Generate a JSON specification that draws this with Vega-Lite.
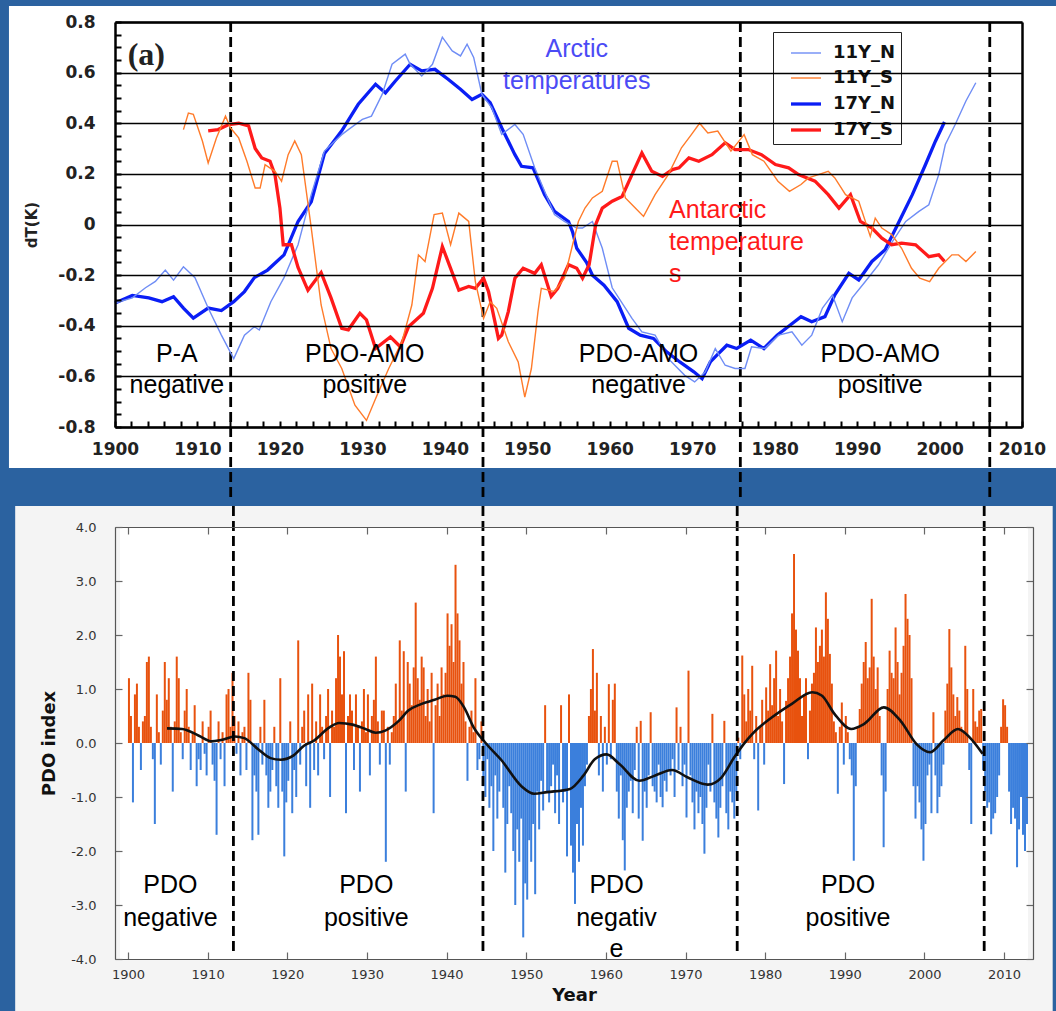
{
"$schema": "https://vega.github.io/schema/vega-lite/v6.json",
"background": "#2b62a0",
"padding": {"left": 8, "top": 6, "right": 0, "bottom": 0},
"config": {"view": {"stroke": null}, "font": "Liberation Sans", "axis": {"labelFont": "Liberation Sans", "titleFont": "Liberation Sans"}},
"spacing": 0,
"resolve": {"scale": {"x": "independent", "y": "independent", "color": "independent", "strokeWidth": "independent"}},
"vconcat": [
{
"width": 907, "height": 405,
"resolve": {"axis": {"x": "independent", "y": "independent"}},
"layer": [
{
"data": {"values": [{}]},
"mark": {"type": "rect", "fill": "white"},
"encoding": {
"x": {"datum": 1887.14, "type": "quantitative", "scale": {"domain": [1900, 2010], "nice": false, "zero": false}, "axis": null},
"x2": {"datum": 2014.4},
"y": {"datum": 0.8632, "type": "quantitative", "scale": {"domain": [-0.8, 0.8], "nice": false, "zero": false}, "axis": null},
"y2": {"datum": -0.962}
}
},
{
"data": {"values": [{"x": 1914.03}, {"x": 1944.63}, {"x": 1975.84}, {"x": 2006.09}]},
"mark": {"type": "rule", "color": "black", "strokeWidth": 2.8, "strokeDash": [10, 5]},
"encoding": {
"x": {"field": "x", "type": "quantitative", "scale": {"domain": [1900, 2010], "nice": false, "zero": false}, "axis": {"orient": "top", "labels": false, "ticks": false, "grid": false, "domain": true, "domainColor": "black", "domainWidth": 2.5, "title": null, "zindex": 1}},
"y": {"datum": 0.8, "type": "quantitative", "scale": {"domain": [-0.8, 0.8], "nice": false, "zero": false}, "axis": null},
"y2": {"datum": -1.0963}
}
},
{
"data": {"values": [
{"s":"17Y_N","x":1900,"v":-0.31},{"s":"17Y_N","x":1902.1,"v":-0.28},{"s":"17Y_N","x":1904.1,"v":-0.29},{"s":"17Y_N","x":1905.7,"v":-0.305},{"s":"17Y_N","x":1907.1,"v":-0.285},{"s":"17Y_N","x":1908.3,"v":-0.33},{"s":"17Y_N","x":1909.5,"v":-0.37},{"s":"17Y_N","x":1911.3,"v":-0.33},{"s":"17Y_N","x":1912.9,"v":-0.34},{"s":"17Y_N","x":1914.4,"v":-0.305},{"s":"17Y_N","x":1915.7,"v":-0.265},{"s":"17Y_N","x":1916.9,"v":-0.21},{"s":"17Y_N","x":1918.5,"v":-0.18},{"s":"17Y_N","x":1920.5,"v":-0.12},{"s":"17Y_N","x":1922.2,"v":0.012},{"s":"17Y_N","x":1923.8,"v":0.09},{"s":"17Y_N","x":1925.4,"v":0.28},{"s":"17Y_N","x":1927.5,"v":0.37},{"s":"17Y_N","x":1929.5,"v":0.475},{"s":"17Y_N","x":1931.6,"v":0.554},{"s":"17Y_N","x":1932.8,"v":0.52},{"s":"17Y_N","x":1934.0,"v":0.567},{"s":"17Y_N","x":1935.8,"v":0.633},{"s":"17Y_N","x":1937.2,"v":0.607},{"s":"17Y_N","x":1938.8,"v":0.613},{"s":"17Y_N","x":1940.4,"v":0.574},{"s":"17Y_N","x":1941.9,"v":0.534},{"s":"17Y_N","x":1943.3,"v":0.494},{"s":"17Y_N","x":1944.5,"v":0.514},{"s":"17Y_N","x":1945.5,"v":0.481},{"s":"17Y_N","x":1946.9,"v":0.382},{"s":"17Y_N","x":1948.5,"v":0.276},{"s":"17Y_N","x":1949.3,"v":0.23},{"s":"17Y_N","x":1950.7,"v":0.224},{"s":"17Y_N","x":1952.1,"v":0.118},{"s":"17Y_N","x":1953.3,"v":0.052},{"s":"17Y_N","x":1955.0,"v":0.012},{"s":"17Y_N","x":1955.5,"v":-0.03},{"s":"17Y_N","x":1956.0,"v":-0.094},{"s":"17Y_N","x":1957.2,"v":-0.15},{"s":"17Y_N","x":1957.9,"v":-0.2},{"s":"17Y_N","x":1959.3,"v":-0.24},{"s":"17Y_N","x":1960.9,"v":-0.305},{"s":"17Y_N","x":1962.3,"v":-0.41},{"s":"17Y_N","x":1963.7,"v":-0.437},{"s":"17Y_N","x":1965.3,"v":-0.45},{"s":"17Y_N","x":1966.9,"v":-0.503},{"s":"17Y_N","x":1968.5,"v":-0.543},{"s":"17Y_N","x":1970.2,"v":-0.582},{"s":"17Y_N","x":1971.2,"v":-0.609},{"s":"17Y_N","x":1972.2,"v":-0.543},{"s":"17Y_N","x":1973.0,"v":-0.516},{"s":"17Y_N","x":1974.2,"v":-0.477},{"s":"17Y_N","x":1975.4,"v":-0.49},{"s":"17Y_N","x":1977.1,"v":-0.457},{"s":"17Y_N","x":1978.7,"v":-0.49},{"s":"17Y_N","x":1980.3,"v":-0.437},{"s":"17Y_N","x":1981.9,"v":-0.397},{"s":"17Y_N","x":1983.2,"v":-0.364},{"s":"17Y_N","x":1984.5,"v":-0.384},{"s":"17Y_N","x":1986.1,"v":-0.364},{"s":"17Y_N","x":1987.3,"v":-0.278},{"s":"17Y_N","x":1989.0,"v":-0.193},{"s":"17Y_N","x":1990.2,"v":-0.219},{"s":"17Y_N","x":1991.8,"v":-0.146},{"s":"17Y_N","x":1993.4,"v":-0.1},{"s":"17Y_N","x":1995.1,"v":0.012},{"s":"17Y_N","x":1996.7,"v":0.118},{"s":"17Y_N","x":1998.3,"v":0.237},{"s":"17Y_N","x":1999.5,"v":0.329},{"s":"17Y_N","x":2000.6,"v":0.405},
{"s":"11Y_N","x":1900,"v":-0.31},{"s":"11Y_N","x":1902.1,"v":-0.29},{"s":"11Y_N","x":1903.7,"v":-0.25},{"s":"11Y_N","x":1904.9,"v":-0.225},{"s":"11Y_N","x":1906.1,"v":-0.18},{"s":"11Y_N","x":1907.1,"v":-0.22},{"s":"11Y_N","x":1908.3,"v":-0.167},{"s":"11Y_N","x":1909.7,"v":-0.21},{"s":"11Y_N","x":1911.3,"v":-0.33},{"s":"11Y_N","x":1912.9,"v":-0.437},{"s":"11Y_N","x":1914.4,"v":-0.53},{"s":"11Y_N","x":1915.7,"v":-0.437},{"s":"11Y_N","x":1916.9,"v":-0.404},{"s":"11Y_N","x":1917.5,"v":-0.417},{"s":"11Y_N","x":1918.9,"v":-0.305},{"s":"11Y_N","x":1920.5,"v":-0.21},{"s":"11Y_N","x":1922.2,"v":-0.08},{"s":"11Y_N","x":1923.8,"v":0.118},{"s":"11Y_N","x":1925.4,"v":0.29},{"s":"11Y_N","x":1927.5,"v":0.355},{"s":"11Y_N","x":1928.3,"v":0.375},{"s":"11Y_N","x":1930.0,"v":0.415},{"s":"11Y_N","x":1931.1,"v":0.428},{"s":"11Y_N","x":1932.4,"v":0.514},{"s":"11Y_N","x":1933.6,"v":0.633},{"s":"11Y_N","x":1935.2,"v":0.673},{"s":"11Y_N","x":1935.8,"v":0.633},{"s":"11Y_N","x":1937.2,"v":0.587},{"s":"11Y_N","x":1938.5,"v":0.633},{"s":"11Y_N","x":1939.7,"v":0.74},{"s":"11Y_N","x":1940.9,"v":0.686},{"s":"11Y_N","x":1941.9,"v":0.666},{"s":"11Y_N","x":1942.7,"v":0.712},{"s":"11Y_N","x":1943.5,"v":0.66},{"s":"11Y_N","x":1944.5,"v":0.514},{"s":"11Y_N","x":1945.7,"v":0.461},{"s":"11Y_N","x":1946.9,"v":0.356},{"s":"11Y_N","x":1948.5,"v":0.395},{"s":"11Y_N","x":1949.5,"v":0.356},{"s":"11Y_N","x":1950.9,"v":0.224},{"s":"11Y_N","x":1952.1,"v":0.131},{"s":"11Y_N","x":1953.3,"v":0.039},{"s":"11Y_N","x":1954.5,"v":0.012},{"s":"11Y_N","x":1956.0,"v":-0.014},{"s":"11Y_N","x":1956.7,"v":-0.014},{"s":"11Y_N","x":1957.9,"v":0.012},{"s":"11Y_N","x":1959.1,"v":-0.094},{"s":"11Y_N","x":1960.3,"v":-0.25},{"s":"11Y_N","x":1961.9,"v":-0.33},{"s":"11Y_N","x":1962.7,"v":-0.371},{"s":"11Y_N","x":1963.9,"v":-0.424},{"s":"11Y_N","x":1965.5,"v":-0.437},{"s":"11Y_N","x":1967.1,"v":-0.53},{"s":"11Y_N","x":1969.1,"v":-0.596},{"s":"11Y_N","x":1970.3,"v":-0.622},{"s":"11Y_N","x":1971.6,"v":-0.582},{"s":"11Y_N","x":1972.8,"v":-0.49},{"s":"11Y_N","x":1974.0,"v":-0.556},{"s":"11Y_N","x":1975.2,"v":-0.569},{"s":"11Y_N","x":1976.4,"v":-0.569},{"s":"11Y_N","x":1977.2,"v":-0.483},{"s":"11Y_N","x":1978.8,"v":-0.49},{"s":"11Y_N","x":1980.5,"v":-0.437},{"s":"11Y_N","x":1982.1,"v":-0.424},{"s":"11Y_N","x":1983.3,"v":-0.477},{"s":"11Y_N","x":1984.5,"v":-0.437},{"s":"11Y_N","x":1985.8,"v":-0.33},{"s":"11Y_N","x":1987.0,"v":-0.278},{"s":"11Y_N","x":1988.2,"v":-0.384},{"s":"11Y_N","x":1989.4,"v":-0.29},{"s":"11Y_N","x":1991.0,"v":-0.225},{"s":"11Y_N","x":1992.6,"v":-0.159},{"s":"11Y_N","x":1994.3,"v":-0.067},{"s":"11Y_N","x":1995.9,"v":0.012},{"s":"11Y_N","x":1997.5,"v":0.052},{"s":"11Y_N","x":1998.7,"v":0.078},{"s":"11Y_N","x":1999.9,"v":0.197},{"s":"11Y_N","x":2000.7,"v":0.316},{"s":"11Y_N","x":2001.9,"v":0.395},{"s":"11Y_N","x":2003.2,"v":0.488},{"s":"11Y_N","x":2004.4,"v":0.56},
{"s":"17Y_S","x":1911.3,"v":0.37},{"s":"17Y_S","x":1912.5,"v":0.375},{"s":"17Y_S","x":1913.8,"v":0.395},{"s":"17Y_S","x":1915.0,"v":0.40},{"s":"17Y_S","x":1916.2,"v":0.39},{"s":"17Y_S","x":1917.0,"v":0.30},{"s":"17Y_S","x":1917.8,"v":0.263},{"s":"17Y_S","x":1918.8,"v":0.25},{"s":"17Y_S","x":1919.4,"v":0.197},{"s":"17Y_S","x":1920.0,"v":0.065},{"s":"17Y_S","x":1920.4,"v":-0.08},{"s":"17Y_S","x":1921.4,"v":-0.08},{"s":"17Y_S","x":1922.2,"v":-0.17},{"s":"17Y_S","x":1923.4,"v":-0.26},{"s":"17Y_S","x":1925.0,"v":-0.19},{"s":"17Y_S","x":1926.2,"v":-0.29},{"s":"17Y_S","x":1927.5,"v":-0.41},{"s":"17Y_S","x":1928.3,"v":-0.416},{"s":"17Y_S","x":1929.7,"v":-0.351},{"s":"17Y_S","x":1930.5,"v":-0.377},{"s":"17Y_S","x":1931.6,"v":-0.49},{"s":"17Y_S","x":1933.4,"v":-0.444},{"s":"17Y_S","x":1934.6,"v":-0.483},{"s":"17Y_S","x":1935.6,"v":-0.404},{"s":"17Y_S","x":1937.4,"v":-0.351},{"s":"17Y_S","x":1938.5,"v":-0.252},{"s":"17Y_S","x":1939.7,"v":-0.087},{"s":"17Y_S","x":1940.7,"v":-0.173},{"s":"17Y_S","x":1941.7,"v":-0.259},{"s":"17Y_S","x":1942.9,"v":-0.245},{"s":"17Y_S","x":1943.7,"v":-0.252},{"s":"17Y_S","x":1944.7,"v":-0.212},{"s":"17Y_S","x":1945.3,"v":-0.265},{"s":"17Y_S","x":1946.5,"v":-0.45},{"s":"17Y_S","x":1946.9,"v":-0.437},{"s":"17Y_S","x":1947.7,"v":-0.344},{"s":"17Y_S","x":1948.5,"v":-0.212},{"s":"17Y_S","x":1949.5,"v":-0.173},{"s":"17Y_S","x":1950.9,"v":-0.193},{"s":"17Y_S","x":1951.7,"v":-0.159},{"s":"17Y_S","x":1952.9,"v":-0.284},{"s":"17Y_S","x":1953.7,"v":-0.252},{"s":"17Y_S","x":1955.0,"v":-0.159},{"s":"17Y_S","x":1956.0,"v":-0.173},{"s":"17Y_S","x":1956.7,"v":-0.212},{"s":"17Y_S","x":1957.5,"v":-0.159},{"s":"17Y_S","x":1958.3,"v":0.0},{"s":"17Y_S","x":1959.1,"v":0.065},{"s":"17Y_S","x":1960.3,"v":0.092},{"s":"17Y_S","x":1961.5,"v":0.111},{"s":"17Y_S","x":1962.7,"v":0.197},{"s":"17Y_S","x":1963.9,"v":0.283},{"s":"17Y_S","x":1965.1,"v":0.21},{"s":"17Y_S","x":1966.4,"v":0.19},{"s":"17Y_S","x":1967.6,"v":0.217},{"s":"17Y_S","x":1968.4,"v":0.224},{"s":"17Y_S","x":1969.6,"v":0.263},{"s":"17Y_S","x":1970.8,"v":0.25},{"s":"17Y_S","x":1972.4,"v":0.276},{"s":"17Y_S","x":1974.0,"v":0.323},{"s":"17Y_S","x":1975.2,"v":0.296},{"s":"17Y_S","x":1976.8,"v":0.296},{"s":"17Y_S","x":1978.4,"v":0.276},{"s":"17Y_S","x":1980.1,"v":0.237},{"s":"17Y_S","x":1981.7,"v":0.224},{"s":"17Y_S","x":1982.9,"v":0.197},{"s":"17Y_S","x":1984.9,"v":0.171},{"s":"17Y_S","x":1986.5,"v":0.118},{"s":"17Y_S","x":1987.8,"v":0.065},{"s":"17Y_S","x":1989.2,"v":0.118},{"s":"17Y_S","x":1990.4,"v":0.012},{"s":"17Y_S","x":1991.8,"v":-0.014},{"s":"17Y_S","x":1993.0,"v":-0.054},{"s":"17Y_S","x":1994.2,"v":-0.08},{"s":"17Y_S","x":1995.4,"v":-0.074},{"s":"17Y_S","x":1997.1,"v":-0.08},{"s":"17Y_S","x":1998.7,"v":-0.127},{"s":"17Y_S","x":1999.9,"v":-0.12},{"s":"17Y_S","x":2000.6,"v":-0.146},
{"s":"11Y_S","x":1908.3,"v":0.375},{"s":"11Y_S","x":1908.9,"v":0.44},{"s":"11Y_S","x":1909.5,"v":0.435},{"s":"11Y_S","x":1910.6,"v":0.33},{"s":"11Y_S","x":1911.3,"v":0.243},{"s":"11Y_S","x":1912.3,"v":0.342},{"s":"11Y_S","x":1913.4,"v":0.428},{"s":"11Y_S","x":1914.0,"v":0.382},{"s":"11Y_S","x":1915.0,"v":0.342},{"s":"11Y_S","x":1916.0,"v":0.25},{"s":"11Y_S","x":1917.0,"v":0.144},{"s":"11Y_S","x":1917.6,"v":0.144},{"s":"11Y_S","x":1918.2,"v":0.236},{"s":"11Y_S","x":1919.4,"v":0.21},{"s":"11Y_S","x":1920.2,"v":0.171},{"s":"11Y_S","x":1921.0,"v":0.276},{"s":"11Y_S","x":1921.8,"v":0.33},{"s":"11Y_S","x":1922.6,"v":0.276},{"s":"11Y_S","x":1923.8,"v":-0.013},{"s":"11Y_S","x":1925.0,"v":-0.318},{"s":"11Y_S","x":1926.2,"v":-0.49},{"s":"11Y_S","x":1927.5,"v":-0.569},{"s":"11Y_S","x":1929.1,"v":-0.714},{"s":"11Y_S","x":1930.5,"v":-0.774},{"s":"11Y_S","x":1931.6,"v":-0.688},{"s":"11Y_S","x":1933.2,"v":-0.569},{"s":"11Y_S","x":1934.8,"v":-0.463},{"s":"11Y_S","x":1936.0,"v":-0.318},{"s":"11Y_S","x":1936.8,"v":-0.12},{"s":"11Y_S","x":1937.6,"v":-0.146},{"s":"11Y_S","x":1938.7,"v":0.039},{"s":"11Y_S","x":1939.7,"v":0.045},{"s":"11Y_S","x":1940.7,"v":-0.08},{"s":"11Y_S","x":1941.7,"v":0.045},{"s":"11Y_S","x":1942.9,"v":0.012},{"s":"11Y_S","x":1943.7,"v":-0.226},{"s":"11Y_S","x":1944.7,"v":-0.371},{"s":"11Y_S","x":1945.5,"v":-0.305},{"s":"11Y_S","x":1946.3,"v":-0.331},{"s":"11Y_S","x":1947.7,"v":-0.463},{"s":"11Y_S","x":1948.9,"v":-0.543},{"s":"11Y_S","x":1949.7,"v":-0.682},{"s":"11Y_S","x":1950.5,"v":-0.569},{"s":"11Y_S","x":1951.3,"v":-0.344},{"s":"11Y_S","x":1951.7,"v":-0.252},{"s":"11Y_S","x":1953.3,"v":-0.265},{"s":"11Y_S","x":1954.5,"v":-0.212},{"s":"11Y_S","x":1955.4,"v":-0.093},{"s":"11Y_S","x":1956.2,"v":0.012},{"s":"11Y_S","x":1957.0,"v":0.065},{"s":"11Y_S","x":1957.9,"v":0.105},{"s":"11Y_S","x":1959.1,"v":0.131},{"s":"11Y_S","x":1960.3,"v":0.25},{"s":"11Y_S","x":1960.9,"v":0.25},{"s":"11Y_S","x":1961.9,"v":0.105},{"s":"11Y_S","x":1963.1,"v":0.065},{"s":"11Y_S","x":1964.1,"v":0.032},{"s":"11Y_S","x":1965.5,"v":0.118},{"s":"11Y_S","x":1967.1,"v":0.197},{"s":"11Y_S","x":1968.7,"v":0.303},{"s":"11Y_S","x":1969.9,"v":0.355},{"s":"11Y_S","x":1970.9,"v":0.40},{"s":"11Y_S","x":1971.9,"v":0.362},{"s":"11Y_S","x":1973.1,"v":0.369},{"s":"11Y_S","x":1974.7,"v":0.29},{"s":"11Y_S","x":1976.3,"v":0.355},{"s":"11Y_S","x":1977.3,"v":0.276},{"s":"11Y_S","x":1978.7,"v":0.25},{"s":"11Y_S","x":1980.4,"v":0.171},{"s":"11Y_S","x":1981.8,"v":0.131},{"s":"11Y_S","x":1983.2,"v":0.158},{"s":"11Y_S","x":1984.1,"v":0.184},{"s":"11Y_S","x":1985.3,"v":0.197},{"s":"11Y_S","x":1986.5,"v":0.21},{"s":"11Y_S","x":1987.3,"v":0.184},{"s":"11Y_S","x":1988.6,"v":0.118},{"s":"11Y_S","x":1990.2,"v":0.092},{"s":"11Y_S","x":1991.6,"v":-0.047},{"s":"11Y_S","x":1992.2,"v":0.025},{"s":"11Y_S","x":1993.0,"v":-0.014},{"s":"11Y_S","x":1994.2,"v":-0.04},{"s":"11Y_S","x":1995.4,"v":-0.094},{"s":"11Y_S","x":1996.6,"v":-0.173},{"s":"11Y_S","x":1997.6,"v":-0.212},{"s":"11Y_S","x":1998.8,"v":-0.226},{"s":"11Y_S","x":1999.9,"v":-0.173},{"s":"11Y_S","x":2001.5,"v":-0.12},{"s":"11Y_S","x":2002.3,"v":-0.12},{"s":"11Y_S","x":2003.2,"v":-0.146},{"s":"11Y_S","x":2004.4,"v":-0.107}
]},
"mark": {"type": "line", "interpolate": "linear"},
"encoding": {
"x": {"field": "x", "type": "quantitative", "scale": {"domain": [1900, 2010], "nice": false, "zero": false},
 "axis": {"orient": "bottom", "values": [1900,1902,1904,1906,1908,1910,1912,1914,1916,1918,1920,1922,1924,1926,1928,1930,1932,1934,1936,1938,1940,1942,1944,1946,1948,1950,1952,1954,1956,1958,1960,1962,1964,1966,1968,1970,1972,1974,1976,1978,1980,1982,1984,1986,1988,1990,1992,1994,1996,1998,2000,2002,2004,2006,2008,2010], "labelExpr": "datum.value % 10 == 0 ? format(datum.value, 'd') : ''", "labelOverlap": false, "labelBound": false, "labelFont": "DejaVu Sans", "labelFontWeight": "bold", "labelFontSize": 17, "labelColor": "#222", "labelPadding": 20, "labelFlush": false, "ticks": true, "tickSize": -6, "tickColor": "black", "tickWidth": 2, "domain": true, "domainColor": "black", "domainWidth": 2.5, "grid": false, "title": null, "zindex": 1}},
"y": {"field": "v", "type": "quantitative", "scale": {"domain": [-0.8, 0.8], "nice": false, "zero": false},
 "axis": {"orient": "left", "values": [-0.8,-0.75,-0.7,-0.65,-0.6,-0.55,-0.5,-0.45,-0.4,-0.35,-0.3,-0.25,-0.2,-0.15,-0.1,-0.05,0,0.05,0.1,0.15,0.2,0.25,0.3,0.35,0.4,0.45,0.5,0.55,0.6,0.65,0.7,0.75,0.8], "labelExpr": "abs(round(datum.value * 100)) % 20 == 0 ? replace(format(datum.value, '.1~f'), '−', '-') : ''", "labelOverlap": false, "labelBound": false, "labelFont": "DejaVu Sans", "labelFontWeight": "bold", "labelFontSize": 17, "labelColor": "#222", "labelPadding": 26, "labelFlush": false, "ticks": true, "tickSize": -6, "tickColor": "black", "tickWidth": 2, "domain": true, "domainColor": "black", "domainWidth": 2.5, "grid": false, "title": "dT(K)", "titleFont": "DejaVu Sans", "titleFontSize": 15, "titleFontWeight": "bold", "titleColor": "#222", "titlePadding": 18, "zindex": 1}},
"color": {"field": "s", "type": "nominal", "scale": {"domain": ["11Y_N","11Y_S","17Y_N","17Y_S"], "range": ["#6f8df5","#ff7b2a","#0a1ef5","#ff1a1a"]},
 "legend": {"orient": "none", "legendX": 658, "legendY": 10, "title": null, "symbolType": "stroke", "symbolSize": 900, "symbolOffset": 11, "labelFont": "DejaVu Sans", "labelFontWeight": "bold", "labelFontSize": 18, "labelColor": "#111", "labelOffset": 10, "rowPadding": -4, "padding": 5, "strokeColor": "#222", "fillColor": "white"}},
"strokeWidth": {"field": "s", "type": "nominal", "scale": {"type": "ordinal", "domain": ["11Y_N","11Y_S","17Y_N","17Y_S"], "range": [1.4, 1.4, 3.3, 3.3]},
 "legend": {"orient": "none", "legendX": 658, "legendY": 10, "title": null, "symbolType": "stroke", "symbolSize": 900, "symbolOffset": 11, "labelFont": "DejaVu Sans", "labelFontWeight": "bold", "labelFontSize": 18, "labelColor": "#111", "labelOffset": 10, "rowPadding": -4, "padding": 5, "strokeColor": "#222", "fillColor": "white"}}
}
},
{
"data": {"values": [
{"x": 1907.5, "v": -0.543, "t": "P-A"}, {"x": 1907.5, "v": -0.666, "t": "negative"},
{"x": 1930.3, "v": -0.543, "t": "PDO-AMO"}, {"x": 1930.3, "v": -0.666, "t": "positive"},
{"x": 1963.5, "v": -0.543, "t": "PDO-AMO"}, {"x": 1963.5, "v": -0.666, "t": "negative"},
{"x": 1992.8, "v": -0.543, "t": "PDO-AMO"}, {"x": 1992.8, "v": -0.666, "t": "positive"}
]},
"mark": {"type": "text", "fontSize": 25, "align": "center", "baseline": "alphabetic", "color": "black"},
"encoding": {
"x": {"field": "x", "type": "quantitative", "scale": {"domain": [1900, 2010], "nice": false, "zero": false}, "axis": null},
"y": {"field": "v", "type": "quantitative", "scale": {"domain": [-0.8, 0.8], "nice": false, "zero": false}, "axis": null},
"text": {"field": "t"}
}
},
{
"data": {"values": [{"x": 1956.0, "v": 0.662, "t": "Arctic"}, {"x": 1956.0, "v": 0.535, "t": "temperatures"}]},
"mark": {"type": "text", "fontSize": 25, "align": "center", "baseline": "alphabetic", "color": "#4b4bf5"},
"encoding": {
"x": {"field": "x", "type": "quantitative", "scale": {"domain": [1900, 2010], "nice": false, "zero": false}, "axis": null},
"y": {"field": "v", "type": "quantitative", "scale": {"domain": [-0.8, 0.8], "nice": false, "zero": false},
 "axis": {"orient": "right", "values": [-0.8,-0.6,-0.4,-0.2,0,0.2,0.4,0.6,0.8], "labels": false, "ticks": false, "grid": true, "gridColor": "black", "gridWidth": 1.3, "gridOpacity": 1, "domain": true, "domainColor": "black", "domainWidth": 2.5, "title": null, "zindex": 1}},
"text": {"field": "t"}
}
},
{
"data": {"values": [{"x": 1967.2, "v": 0.026, "t": "Antarctic"}, {"x": 1967.2, "v": -0.101, "t": "temperature"}, {"x": 1967.2, "v": -0.227, "t": "s"}]},
"mark": {"type": "text", "fontSize": 25, "align": "left", "baseline": "alphabetic", "color": "#ff1a1a"},
"encoding": {
"x": {"field": "x", "type": "quantitative", "scale": {"domain": [1900, 2010], "nice": false, "zero": false}, "axis": null},
"y": {"field": "v", "type": "quantitative", "scale": {"domain": [-0.8, 0.8], "nice": false, "zero": false}, "axis": null},
"text": {"field": "t"}
}
},
{
"data": {"values": [{"x": 1903.8, "v": 0.63, "t": "(a)"}]},
"mark": {"type": "text", "fontSize": 32, "font": "Liberation Serif", "fontWeight": "bold", "align": "center", "baseline": "alphabetic", "color": "#222"},
"encoding": {
"x": {"field": "x", "type": "quantitative", "scale": {"domain": [1900, 2010], "nice": false, "zero": false}, "axis": null},
"y": {"field": "v", "type": "quantitative", "scale": {"domain": [-0.8, 0.8], "nice": false, "zero": false}, "axis": null},
"text": {"field": "t"}
}
}
]
},
{
"width": 918, "height": 432,
"resolve": {"axis": {"x": "independent", "y": "independent"}},
"layer": [
{
"data": {"values": [{}]},
"mark": {"type": "rect", "fill": "#f4f4f4"},
"encoding": {
"x": {"datum": 1885.84, "type": "quantitative", "scale": {"domain": [1899, 2013], "nice": false, "zero": false}, "axis": null},
"x2": {"datum": 2016.1},
"y": {"datum": 4.389, "type": "quantitative", "scale": {"domain": [-4, 4], "nice": false, "zero": false}, "axis": null},
"y2": {"datum": -5.1}
}
},
{
"data": {"values": [{}]},
"mark": {"type": "rect", "fill": "white"},
"encoding": {
"x": {"datum": 1899, "type": "quantitative", "scale": {"domain": [1899, 2013], "nice": false, "zero": false}, "axis": null},
"x2": {"datum": 2013},
"y": {"datum": 4, "type": "quantitative", "scale": {"domain": [-4, 4], "nice": false, "zero": false}, "axis": null},
"y2": {"datum": -4}
}
},
{
"data": {"values": [
{"t":1900.125,"v":1.2},{"t":1900.375,"v":0.5},{"t":1900.625,"v":-1.1},{"t":1900.875,"v":0.9},
{"t":1901.125,"v":1.1},{"t":1901.375,"v":0.3},{"t":1901.625,"v":-0.5},{"t":1901.875,"v":0.4},
{"t":1902.125,"v":0.5},{"t":1902.375,"v":1.5},{"t":1902.625,"v":1.6},{"t":1902.875,"v":0.3},
{"t":1903.125,"v":-0.3},{"t":1903.375,"v":-1.5},{"t":1903.625,"v":0.9},{"t":1903.875,"v":0.2},
{"t":1904.125,"v":-0.4},{"t":1904.375,"v":0.6},{"t":1904.625,"v":1.5},{"t":1904.875,"v":0.8},
{"t":1905.125,"v":1.2},{"t":1905.375,"v":0.3},{"t":1905.625,"v":-0.9},{"t":1905.875,"v":0.4},
{"t":1906.125,"v":1.6},{"t":1906.375,"v":1.2},{"t":1906.625,"v":0.2},{"t":1906.875,"v":-0.3},
{"t":1907.125,"v":0.6},{"t":1907.375,"v":1.0},{"t":1907.625,"v":0.3},{"t":1907.875,"v":-0.5},
{"t":1908.125,"v":0.2},{"t":1908.375,"v":0.7},{"t":1908.625,"v":-0.8},{"t":1908.875,"v":-0.3},
{"t":1909.125,"v":-0.5},{"t":1909.375,"v":0.4},{"t":1909.625,"v":-0.2},{"t":1909.875,"v":-0.6},
{"t":1910.125,"v":0.3},{"t":1910.375,"v":0.6},{"t":1910.625,"v":-0.4},{"t":1910.875,"v":-0.7},
{"t":1911.125,"v":-1.7},{"t":1911.375,"v":0.4},{"t":1911.625,"v":-0.3},{"t":1911.875,"v":0.2},
{"t":1912.125,"v":-0.8},{"t":1912.375,"v":0.9},{"t":1912.625,"v":1.0},{"t":1912.875,"v":0.3},
{"t":1913.125,"v":1.3},{"t":1913.375,"v":0.5},{"t":1913.625,"v":-0.2},{"t":1913.875,"v":0.4},
{"t":1914.125,"v":-0.6},{"t":1914.375,"v":0.2},{"t":1914.625,"v":0.3},{"t":1914.875,"v":-0.5},
{"t":1915.125,"v":1.3},{"t":1915.375,"v":0.8},{"t":1915.625,"v":-1.8},{"t":1915.875,"v":-0.6},
{"t":1916.125,"v":-0.9},{"t":1916.375,"v":-1.7},{"t":1916.625,"v":0.3},{"t":1916.875,"v":-0.4},
{"t":1917.125,"v":0.8},{"t":1917.375,"v":-0.6},{"t":1917.625,"v":-1.2},{"t":1917.875,"v":-0.9},
{"t":1918.125,"v":-0.5},{"t":1918.375,"v":0.3},{"t":1918.625,"v":-0.8},{"t":1918.875,"v":-1.2},
{"t":1919.125,"v":1.2},{"t":1919.375,"v":-0.9},{"t":1919.625,"v":-2.1},{"t":1919.875,"v":-1.1},
{"t":1920.125,"v":-0.7},{"t":1920.375,"v":0.4},{"t":1920.625,"v":-1.3},{"t":1920.875,"v":-0.5},
{"t":1921.125,"v":-1.0},{"t":1921.375,"v":1.9},{"t":1921.625,"v":-0.4},{"t":1921.875,"v":0.3},
{"t":1922.125,"v":0.6},{"t":1922.375,"v":-0.8},{"t":1922.625,"v":0.9},{"t":1922.875,"v":-1.2},
{"t":1923.125,"v":1.1},{"t":1923.375,"v":-0.5},{"t":1923.625,"v":0.4},{"t":1923.875,"v":-0.6},
{"t":1924.125,"v":0.9},{"t":1924.375,"v":0.3},{"t":1924.625,"v":-0.3},{"t":1924.875,"v":0.5},
{"t":1925.125,"v":1.0},{"t":1925.375,"v":-1.0},{"t":1925.625,"v":0.6},{"t":1925.875,"v":0.3},
{"t":1926.125,"v":1.2},{"t":1926.375,"v":2.0},{"t":1926.625,"v":1.6},{"t":1926.875,"v":0.9},
{"t":1927.125,"v":1.7},{"t":1927.375,"v":-1.3},{"t":1927.625,"v":0.5},{"t":1927.875,"v":0.9},
{"t":1928.125,"v":0.6},{"t":1928.375,"v":-0.5},{"t":1928.625,"v":0.9},{"t":1928.875,"v":0.3},
{"t":1929.125,"v":-0.9},{"t":1929.375,"v":0.4},{"t":1929.625,"v":1.0},{"t":1929.875,"v":0.2},
{"t":1930.125,"v":0.9},{"t":1930.375,"v":-0.6},{"t":1930.625,"v":0.5},{"t":1930.875,"v":0.8},
{"t":1931.125,"v":1.6},{"t":1931.375,"v":0.4},{"t":1931.625,"v":-0.4},{"t":1931.875,"v":0.6},
{"t":1932.125,"v":0.6},{"t":1932.375,"v":-2.2},{"t":1932.625,"v":0.3},{"t":1932.875,"v":-0.4},
{"t":1933.125,"v":0.2},{"t":1933.375,"v":0.5},{"t":1933.625,"v":1.1},{"t":1933.875,"v":0.4},
{"t":1934.125,"v":1.9},{"t":1934.375,"v":0.6},{"t":1934.625,"v":1.7},{"t":1934.875,"v":-0.9},
{"t":1935.125,"v":1.5},{"t":1935.375,"v":1.1},{"t":1935.625,"v":0.7},{"t":1935.875,"v":1.4},
{"t":1936.125,"v":2.6},{"t":1936.375,"v":1.2},{"t":1936.625,"v":0.8},{"t":1936.875,"v":1.6},
{"t":1937.125,"v":1.4},{"t":1937.375,"v":0.5},{"t":1937.625,"v":1.0},{"t":1937.875,"v":0.4},
{"t":1938.125,"v":1.3},{"t":1938.375,"v":-1.3},{"t":1938.625,"v":0.7},{"t":1938.875,"v":1.1},
{"t":1939.125,"v":0.5},{"t":1939.375,"v":1.4},{"t":1939.625,"v":0.9},{"t":1939.875,"v":1.3},
{"t":1940.125,"v":2.4},{"t":1940.375,"v":1.8},{"t":1940.625,"v":2.2},{"t":1940.875,"v":1.5},
{"t":1941.125,"v":3.3},{"t":1941.375,"v":2.4},{"t":1941.625,"v":1.9},{"t":1941.875,"v":1.1},
{"t":1942.125,"v":1.5},{"t":1942.375,"v":0.4},{"t":1942.625,"v":-0.7},{"t":1942.875,"v":0.3},
{"t":1943.125,"v":0.6},{"t":1943.375,"v":0.2},{"t":1943.625,"v":1.2},{"t":1943.875,"v":-0.5},
{"t":1944.125,"v":-0.3},{"t":1944.375,"v":0.4},{"t":1944.625,"v":-0.8},{"t":1944.875,"v":-1.0},
{"t":1945.125,"v":-0.3},{"t":1945.375,"v":-1.2},{"t":1945.625,"v":-0.8},{"t":1945.875,"v":-2.0},
{"t":1946.125,"v":-0.6},{"t":1946.375,"v":-1.4},{"t":1946.625,"v":-0.9},{"t":1946.875,"v":-0.3},
{"t":1947.125,"v":-1.2},{"t":1947.375,"v":-2.4},{"t":1947.625,"v":-1.5},{"t":1947.875,"v":-0.8},
{"t":1948.125,"v":-1.3},{"t":1948.375,"v":-2.0},{"t":1948.625,"v":-3.0},{"t":1948.875,"v":-1.6},
{"t":1949.125,"v":-2.2},{"t":1949.375,"v":-1.4},{"t":1949.625,"v":-3.6},{"t":1949.875,"v":-2.6},
{"t":1950.125,"v":-2.9},{"t":1950.375,"v":-1.8},{"t":1950.625,"v":-2.2},{"t":1950.875,"v":-1.5},
{"t":1951.125,"v":-2.8},{"t":1951.375,"v":-0.9},{"t":1951.625,"v":-1.6},{"t":1951.875,"v":-0.7},
{"t":1952.125,"v":-1.25},{"t":1952.375,"v":0.7},{"t":1952.625,"v":-0.9},{"t":1952.875,"v":-1.1},
{"t":1953.125,"v":-0.8},{"t":1953.375,"v":-0.4},{"t":1953.625,"v":-1.3},{"t":1953.875,"v":-0.6},
{"t":1954.125,"v":-1.5},{"t":1954.375,"v":0.7},{"t":1954.625,"v":-1.1},{"t":1954.875,"v":-0.9},
{"t":1955.125,"v":-2.1},{"t":1955.375,"v":0.9},{"t":1955.625,"v":-1.9},{"t":1955.875,"v":-2.4},
{"t":1956.125,"v":-2.98},{"t":1956.375,"v":-1.5},{"t":1956.625,"v":-2.2},{"t":1956.875,"v":-1.2},
{"t":1957.125,"v":-1.9},{"t":1957.375,"v":-0.8},{"t":1957.625,"v":-0.4},{"t":1957.875,"v":0.5},
{"t":1958.125,"v":1.0},{"t":1958.375,"v":1.74},{"t":1958.625,"v":0.6},{"t":1958.875,"v":1.3},
{"t":1959.125,"v":-0.6},{"t":1959.375,"v":0.5},{"t":1959.625,"v":-0.9},{"t":1959.875,"v":0.3},
{"t":1960.125,"v":-0.4},{"t":1960.375,"v":1.09},{"t":1960.625,"v":-0.3},{"t":1960.875,"v":0.8},
{"t":1961.125,"v":1.1},{"t":1961.375,"v":-0.9},{"t":1961.625,"v":-1.4},{"t":1961.875,"v":-0.6},
{"t":1962.125,"v":-1.8},{"t":1962.375,"v":-2.36},{"t":1962.625,"v":-1.2},{"t":1962.875,"v":-0.9},
{"t":1963.125,"v":-0.7},{"t":1963.375,"v":-1.3},{"t":1963.625,"v":-0.5},{"t":1963.875,"v":0.3},
{"t":1964.125,"v":-1.4},{"t":1964.375,"v":0.41},{"t":1964.625,"v":-1.81},{"t":1964.875,"v":-0.9},
{"t":1965.125,"v":-1.2},{"t":1965.375,"v":-0.6},{"t":1965.625,"v":0.57},{"t":1965.875,"v":-0.8},
{"t":1966.125,"v":-0.9},{"t":1966.375,"v":-1.1},{"t":1966.625,"v":-0.4},{"t":1966.875,"v":-1.0},
{"t":1967.125,"v":-1.19},{"t":1967.375,"v":-0.7},{"t":1967.625,"v":-0.9},{"t":1967.875,"v":-0.5},
{"t":1968.125,"v":-0.6},{"t":1968.375,"v":-0.3},{"t":1968.625,"v":-1.0},{"t":1968.875,"v":0.66},
{"t":1969.125,"v":-0.5},{"t":1969.375,"v":0.3},{"t":1969.625,"v":-0.8},{"t":1969.875,"v":-0.4},
{"t":1970.125,"v":-1.38},{"t":1970.375,"v":1.34},{"t":1970.625,"v":-0.6},{"t":1970.875,"v":-1.1},
{"t":1971.125,"v":-1.6},{"t":1971.375,"v":-0.9},{"t":1971.625,"v":-1.3},{"t":1971.875,"v":-1.0},
{"t":1972.125,"v":-1.5},{"t":1972.375,"v":-2.05},{"t":1972.625,"v":-1.2},{"t":1972.875,"v":-0.4},
{"t":1973.125,"v":-0.9},{"t":1973.375,"v":0.54},{"t":1973.625,"v":-1.1},{"t":1973.875,"v":-1.4},
{"t":1974.125,"v":-1.75},{"t":1974.375,"v":-1.2},{"t":1974.625,"v":-0.8},{"t":1974.875,"v":0.41},
{"t":1975.125,"v":-1.3},{"t":1975.375,"v":-1.6},{"t":1975.625,"v":-0.9},{"t":1975.875,"v":-1.1},
{"t":1976.125,"v":-1.4},{"t":1976.375,"v":-0.9},{"t":1976.625,"v":0.1},{"t":1976.875,"v":-0.3},
{"t":1977.125,"v":1.62},{"t":1977.375,"v":0.9},{"t":1977.625,"v":0.4},{"t":1977.875,"v":1.0},
{"t":1978.125,"v":0.6},{"t":1978.375,"v":1.43},{"t":1978.625,"v":-0.3},{"t":1978.875,"v":0.5},
{"t":1979.125,"v":-1.25},{"t":1979.375,"v":0.3},{"t":1979.625,"v":0.8},{"t":1979.875,"v":-0.4},
{"t":1980.125,"v":1.03},{"t":1980.375,"v":0.6},{"t":1980.625,"v":1.46},{"t":1980.875,"v":0.7},
{"t":1981.125,"v":1.2},{"t":1981.375,"v":1.71},{"t":1981.625,"v":0.5},{"t":1981.875,"v":1.0},
{"t":1982.125,"v":0.4},{"t":1982.375,"v":-0.76},{"t":1982.625,"v":0.78},{"t":1982.875,"v":1.2},
{"t":1983.125,"v":1.6},{"t":1983.375,"v":2.4},{"t":1983.625,"v":3.5},{"t":1983.875,"v":2.1},
{"t":1984.125,"v":1.71},{"t":1984.375,"v":1.2},{"t":1984.625,"v":0.5},{"t":1984.875,"v":0.9},
{"t":1985.125,"v":1.2},{"t":1985.375,"v":-0.3},{"t":1985.625,"v":0.6},{"t":1985.875,"v":1.1},
{"t":1986.125,"v":1.3},{"t":1986.375,"v":2.14},{"t":1986.625,"v":1.5},{"t":1986.875,"v":1.8},
{"t":1987.125,"v":2.1},{"t":1987.375,"v":1.6},{"t":1987.625,"v":2.79},{"t":1987.875,"v":2.3},
{"t":1988.125,"v":1.65},{"t":1988.375,"v":1.1},{"t":1988.625,"v":0.4},{"t":1988.875,"v":0.2},
{"t":1989.125,"v":-0.94},{"t":1989.375,"v":0.3},{"t":1989.625,"v":0.75},{"t":1989.875,"v":-0.4},
{"t":1990.125,"v":0.5},{"t":1990.375,"v":0.2},{"t":1990.625,"v":-0.3},{"t":1990.875,"v":-0.6},
{"t":1991.125,"v":-2.18},{"t":1991.375,"v":-0.8},{"t":1991.625,"v":0.3},{"t":1991.875,"v":0.63},
{"t":1992.125,"v":1.1},{"t":1992.375,"v":1.5},{"t":1992.625,"v":1.87},{"t":1992.875,"v":1.2},
{"t":1993.125,"v":1.4},{"t":1993.375,"v":2.67},{"t":1993.625,"v":1.6},{"t":1993.875,"v":1.0},
{"t":1994.125,"v":1.4},{"t":1994.375,"v":0.5},{"t":1994.625,"v":-0.6},{"t":1994.875,"v":-1.93},
{"t":1995.125,"v":-0.9},{"t":1995.375,"v":1.0},{"t":1995.625,"v":1.71},{"t":1995.875,"v":1.3},
{"t":1996.125,"v":1.2},{"t":1996.375,"v":2.14},{"t":1996.625,"v":1.5},{"t":1996.875,"v":0.9},
{"t":1997.125,"v":1.3},{"t":1997.375,"v":1.8},{"t":1997.625,"v":2.76},{"t":1997.875,"v":2.3},
{"t":1998.125,"v":2.0},{"t":1998.375,"v":1.2},{"t":1998.625,"v":-0.8},{"t":1998.875,"v":-1.4},
{"t":1999.125,"v":-0.8},{"t":1999.375,"v":-1.1},{"t":1999.625,"v":-1.6},{"t":1999.875,"v":-2.18},
{"t":2000.125,"v":-1.5},{"t":2000.375,"v":-0.6},{"t":2000.625,"v":-0.4},{"t":2000.875,"v":-1.3},
{"t":2001.125,"v":0.57},{"t":2001.375,"v":-0.6},{"t":2001.625,"v":-1.3},{"t":2001.875,"v":-1.0},
{"t":2002.125,"v":-0.8},{"t":2002.375,"v":-0.4},{"t":2002.625,"v":0.6},{"t":2002.875,"v":1.1},
{"t":2003.125,"v":2.11},{"t":2003.375,"v":1.4},{"t":2003.625,"v":0.9},{"t":2003.875,"v":0.5},
{"t":2004.125,"v":0.85},{"t":2004.375,"v":0.6},{"t":2004.625,"v":0.3},{"t":2004.875,"v":0.2},
{"t":2005.125,"v":1.8},{"t":2005.375,"v":1.0},{"t":2005.625,"v":-0.5},{"t":2005.875,"v":-1.5},
{"t":2006.125,"v":1.0},{"t":2006.375,"v":0.4},{"t":2006.625,"v":0.3},{"t":2006.875,"v":0.6},
{"t":2007.125,"v":0.63},{"t":2007.375,"v":-0.5},{"t":2007.625,"v":-0.9},{"t":2007.875,"v":-1.2},
{"t":2008.125,"v":-1.1},{"t":2008.375,"v":-1.69},{"t":2008.625,"v":-1.4},{"t":2008.875,"v":-1.3},
{"t":2009.125,"v":-1.0},{"t":2009.375,"v":-0.6},{"t":2009.625,"v":0.3},{"t":2009.875,"v":0.81},
{"t":2010.125,"v":0.7},{"t":2010.375,"v":0.3},{"t":2010.625,"v":-0.9},{"t":2010.875,"v":-1.5},
{"t":2011.125,"v":-1.2},{"t":2011.375,"v":-1.4},{"t":2011.625,"v":-2.3},{"t":2011.875,"v":-1.6},
{"t":2012.125,"v":-1.0},{"t":2012.375,"v":-1.7},{"t":2012.625,"v":-2.0},{"t":2012.875,"v":-1.5}
]},
"mark": {"type": "bar", "width": 2.0},
"encoding": {
"x": {"field": "t", "type": "quantitative", "scale": {"domain": [1899, 2013], "nice": false, "zero": false},
 "axis": {"orient": "bottom", "values": [1900,1910,1920,1930,1940,1950,1960,1970,1980,1990,2000,2010], "format": "d", "labelFont": "DejaVu Sans", "labelFontSize": 13, "labelColor": "#333", "labelPadding": 16, "labelFlush": false, "ticks": true, "tickSize": -7, "tickColor": "#666", "tickWidth": 1.2, "domain": true, "domainColor": "#555", "domainWidth": 1.2, "grid": false, "title": "Year", "titleFont": "DejaVu Sans", "titleFontSize": 18, "titleFontWeight": "bold", "titleColor": "#111", "titlePadding": 5, "zindex": 1}},
"y": {"field": "v", "type": "quantitative", "scale": {"domain": [-4, 4], "nice": false, "zero": false},
 "axis": {"orient": "left", "values": [-4,-3,-2,-1,0,1,2,3,4], "labelExpr": "replace(format(datum.value, '.1f'), '−', '-')", "labelFont": "DejaVu Sans", "labelFontSize": 13, "labelColor": "#333", "labelPadding": 26, "labelFlush": false, "ticks": true, "tickSize": -7, "tickColor": "#666", "tickWidth": 1.2, "domain": true, "domainColor": "#555", "domainWidth": 1.2, "grid": false, "title": "PDO index", "titleFont": "DejaVu Sans", "titleFontSize": 18, "titleFontWeight": "bold", "titleColor": "#111", "titlePadding": 12, "zindex": 1}},
"color": {"condition": {"test": "datum.v > 0", "value": "#e8520e"}, "value": "#3b7fdc"}
}
},
{
"data": {"values": [
{"t":1904.9,"v":0.27},{"t":1906.8,"v":0.26},{"t":1908.9,"v":0.135},{"t":1910.5,"v":0.03},{"t":1911.7,"v":0.055},{"t":1913.4,"v":0.12},{"t":1914.6,"v":0.09},{"t":1916.3,"v":-0.11},{"t":1917.9,"v":-0.28},{"t":1919.2,"v":-0.31},{"t":1920.8,"v":-0.23},{"t":1922.1,"v":-0.05},{"t":1923.3,"v":0.04},{"t":1925.3,"v":0.29},{"t":1926.5,"v":0.37},{"t":1928.2,"v":0.34},{"t":1929.8,"v":0.26},{"t":1931.1,"v":0.19},{"t":1932.3,"v":0.23},{"t":1934.0,"v":0.41},{"t":1935.2,"v":0.6},{"t":1936.8,"v":0.72},{"t":1938.5,"v":0.8},{"t":1940.1,"v":0.876},{"t":1941.1,"v":0.858},{"t":1942.2,"v":0.66},{"t":1943.4,"v":0.29},{"t":1944.9,"v":0.0},{"t":1946.9,"v":-0.32},{"t":1949.4,"v":-0.8},{"t":1951.0,"v":-0.94},{"t":1952.6,"v":-0.91},{"t":1955.5,"v":-0.85},{"t":1957.2,"v":-0.6},{"t":1958.6,"v":-0.3},{"t":1960.1,"v":-0.21},{"t":1961.7,"v":-0.39},{"t":1964.2,"v":-0.7},{"t":1966.2,"v":-0.6},{"t":1968.3,"v":-0.5},{"t":1970.3,"v":-0.64},{"t":1972.8,"v":-0.77},{"t":1974.5,"v":-0.64},{"t":1976.1,"v":-0.27},{"t":1977.3,"v":-0.02},{"t":1978.4,"v":0.17},{"t":1980.9,"v":0.48},{"t":1983.4,"v":0.73},{"t":1985.9,"v":0.94},{"t":1987.1,"v":0.88},{"t":1988.7,"v":0.54},{"t":1990.8,"v":0.26},{"t":1992.4,"v":0.35},{"t":1994.9,"v":0.66},{"t":1997.0,"v":0.41},{"t":1999.0,"v":-0.02},{"t":2000.7,"v":-0.17},{"t":2002.4,"v":0.05},{"t":2004.2,"v":0.26},{"t":2005.7,"v":0.1},{"t":2007.3,"v":-0.2}
]},
"mark": {"type": "line", "color": "#111", "strokeWidth": 2.6, "interpolate": "monotone"},
"encoding": {
"x": {"field": "t", "type": "quantitative", "scale": {"domain": [1899, 2013], "nice": false, "zero": false},
 "axis": {"orient": "top", "values": [1900,1910,1920,1930,1940,1950,1960,1970,1980,1990,2000,2010], "labels": false, "ticks": true, "tickSize": -7, "tickColor": "#666", "tickWidth": 1.2, "domain": true, "domainColor": "#555", "domainWidth": 1.2, "grid": false, "title": null, "zindex": 1}},
"y": {"field": "v", "type": "quantitative", "scale": {"domain": [-4, 4], "nice": false, "zero": false},
 "axis": {"orient": "right", "values": [-4,-3,-2,-1,0,1,2,3,4], "labels": false, "ticks": true, "tickSize": -7, "tickColor": "#666", "tickWidth": 1.2, "domain": true, "domainColor": "#555", "domainWidth": 1.2, "grid": false, "title": null, "zindex": 1}}
}
},
{
"data": {"values": [{"x": 1913.24}, {"x": 1944.57}, {"x": 1976.49}, {"x": 2007.5}]},
"mark": {"type": "rule", "color": "black", "strokeWidth": 2.8, "strokeDash": [10, 5]},
"encoding": {
"x": {"field": "x", "type": "quantitative", "scale": {"domain": [1899, 2013], "nice": false, "zero": false}, "axis": null},
"y": {"datum": 4.389, "type": "quantitative", "scale": {"domain": [-4, 4], "nice": false, "zero": false}, "axis": null},
"y2": {"datum": -3.85}
}
},
{
"data": {"values": [
{"x": 1905.33, "v": -2.78, "t": "PDO"}, {"x": 1905.33, "v": -3.39, "t": "negative"},
{"x": 1929.92, "v": -2.78, "t": "PDO"}, {"x": 1929.92, "v": -3.39, "t": "positive"},
{"x": 1961.34, "v": -2.78, "t": "PDO"}, {"x": 1961.34, "v": -3.39, "t": "negativ"}, {"x": 1961.34, "v": -3.96, "t": "e"},
{"x": 1990.4, "v": -2.78, "t": "PDO"}, {"x": 1990.4, "v": -3.39, "t": "positive"}
]},
"mark": {"type": "text", "fontSize": 25, "align": "center", "baseline": "alphabetic", "color": "black"},
"encoding": {
"x": {"field": "x", "type": "quantitative", "scale": {"domain": [1899, 2013], "nice": false, "zero": false}, "axis": null},
"y": {"field": "v", "type": "quantitative", "scale": {"domain": [-4, 4], "nice": false, "zero": false}, "axis": null},
"text": {"field": "t"}
}
}
]
}
]
}
